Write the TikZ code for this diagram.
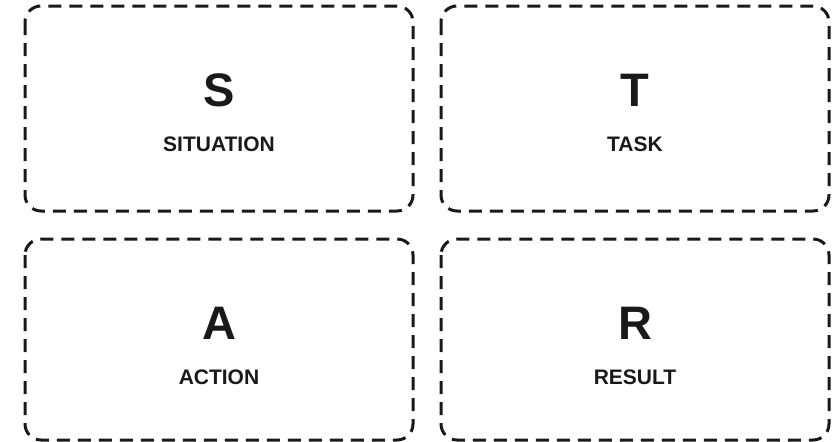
\documentclass[tikz,border=0pt]{standalone}
\usepackage{fontspec}
\setmainfont{Liberation Sans}
\begin{document}
\begin{tikzpicture}[x=1pt,y=-1pt,
  card/.style={draw=black!90, line width=3pt, dash pattern=on 13pt off 8pt, rounded corners=16pt},
  bigletter/.style={font=\fontsize{47}{47}\selectfont\bfseries, text=black!90, inner sep=0pt},
  word/.style={font=\fontsize{21}{21}\selectfont\bfseries, text=black!90, inner sep=0pt}]
\useasboundingbox (0,0) rectangle (839,442);
\draw[card] (25,6) rectangle (413,211);
\draw[card] (441,6) rectangle (829,211);
\draw[card] (25,239) rectangle (413,440);
\draw[card] (441,239) rectangle (829,440);
\node[bigletter] (s) at (219,90) {S};
\node[word] (sw) at (219,144) {SITUATION};
\node[bigletter] (t) at (635,90) {T};
\node[word] (tw) at (635,144) {TASK};
\node[bigletter] (a) at (219,323) {A};
\node[word] (aw) at (219,377) {ACTION};
\node[bigletter] (r) at (635,323) {R};
\node[word] (rw) at (635,377) {RESULT};
\end{tikzpicture}
\end{document}
